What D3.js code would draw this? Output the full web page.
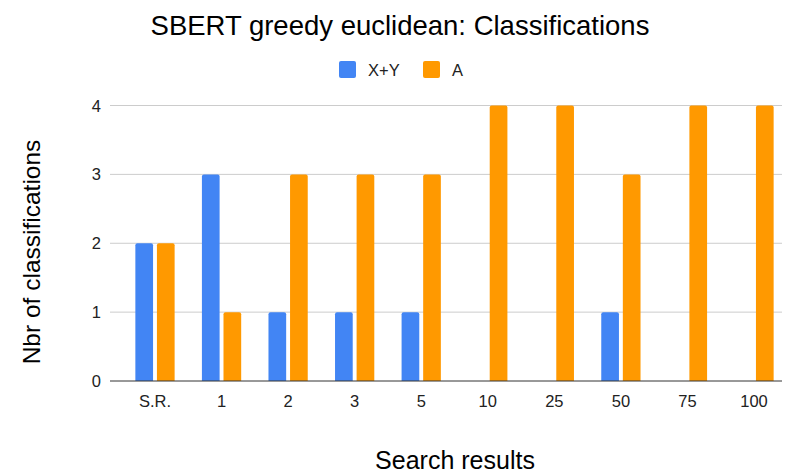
<!DOCTYPE html>
<html lang="en">
<head>
<meta charset="utf-8">
<title>SBERT greedy euclidean: Classifications</title>
<script src="https://cdn.jsdelivr.net/npm/d3@7"></script>
<style>
  body { margin: 0; background: #fff; }
  text { font-family: "Liberation Sans", Arial, sans-serif; }
</style>
</head>
<body>
<script>
// data
var categories = ["S.R.", "1", "2", "3", "5", "10", "25", "50", "75", "100"];
var seriesNames = ["X+Y", "A"];
var xyValues = [2, 3, 1, 1, 1, 0, 0, 1, 0, 0];
var aValues = [2, 1, 3, 3, 3, 4, 4, 3, 4, 4];
var yTicks = [0, 1, 2, 3, 4];
var colors = ["#4285f4", "#ff9900"];

var w = 786, h = 475;
var plotLeft = 110, plotRight = 782, plotTop = 105.5, plotBottom = 381;

var svg = d3.select("body").append("svg")
  .attr("width", w)
  .attr("height", h);

var y = d3.scaleLinear().domain([0, 4]).range([plotBottom, plotTop]);

var x = d3.scaleBand()
  .domain(categories)
  .range([plotLeft, 799])
  .paddingInner(0.41)
  .paddingOuter(0.381);

var x1 = d3.scaleBand()
  .domain(seriesNames)
  .range([0, x.bandwidth()])
  .paddingInner(0.18);

// gridlines
svg.append("g").selectAll("line")
  .data(yTicks.filter(function(d) { return d > 0; }))
  .enter().append("line")
  .attr("x1", plotLeft).attr("x2", plotRight)
  .attr("y1", function(d) { return y(d); })
  .attr("y2", function(d) { return y(d); })
  .attr("stroke", "#cccccc")
  .attr("stroke-width", 1);

// y tick labels
svg.append("g").selectAll("text")
  .data(yTicks)
  .enter().append("text")
  .attr("x", 101)
  .attr("y", function(d) { return y(d) + 6; })
  .attr("text-anchor", "end")
  .attr("font-size", 16.5)
  .attr("fill", "#222")
  .text(function(d) { return d; });

// bars
var rows = categories.map(function(c, i) {
  return { cat: c, vals: [xyValues[i], aValues[i]] };
});

function barPath(x0, bw, v) {
  var y0 = y(0), y1 = y(v), r = 2;
  return "M" + x0 + "," + y0 +
    "V" + (y1 + r) +
    "Q" + x0 + "," + y1 + " " + (x0 + r) + "," + y1 +
    "H" + (x0 + bw - r) +
    "Q" + (x0 + bw) + "," + y1 + " " + (x0 + bw) + "," + (y1 + r) +
    "V" + y0 + "Z";
}

var groups = svg.append("g").selectAll("g")
  .data(rows)
  .enter().append("g")
  .attr("transform", function(d) { return "translate(" + x(d.cat) + ",0)"; });

groups.selectAll("path")
  .data(function(d) {
    return d.vals.map(function(v, k) { return { name: seriesNames[k], value: v, k: k }; })
      .filter(function(e) { return e.value > 0; });
  })
  .enter().append("path")
  .attr("d", function(d) { return barPath(x1(d.name), x1.bandwidth(), d.value); })
  .attr("fill", function(d) { return colors[d.k]; });

// baseline
svg.append("line")
  .attr("x1", plotLeft).attr("x2", plotRight)
  .attr("y1", plotBottom).attr("y2", plotBottom)
  .attr("stroke", "#333")
  .attr("stroke-width", 1);

// x tick labels
svg.append("g").selectAll("text")
  .data(categories)
  .enter().append("text")
  .attr("x", function(d) { return x(d) + x.bandwidth() / 2; })
  .attr("y", 407)
  .attr("text-anchor", "middle")
  .attr("font-size", 16.5)
  .attr("fill", "#222")
  .text(function(d) { return d; });

// title
svg.append("text")
  .attr("x", 400).attr("y", 35)
  .attr("text-anchor", "middle")
  .attr("font-size", 27.5)
  .attr("fill", "#000")
  .text("SBERT greedy euclidean: Classifications");

// legend
var legendX = [339, 423];
var legend = svg.append("g").selectAll("g")
  .data(seriesNames)
  .enter().append("g")
  .attr("transform", function(d, i) { return "translate(" + legendX[i] + ",61)"; });
legend.append("rect")
  .attr("width", 17).attr("height", 17)
  .attr("rx", 2)
  .attr("fill", function(d, i) { return colors[i]; });
legend.append("text")
  .attr("x", 29).attr("y", 15)
  .attr("font-size", 16.5)
  .attr("fill", "#222")
  .text(function(d) { return d; });

// axis titles
svg.append("text")
  .attr("x", 455).attr("y", 469)
  .attr("text-anchor", "middle")
  .attr("font-size", 25)
  .attr("fill", "#000")
  .text("Search results");

svg.append("text")
  .attr("transform", "translate(40,252) rotate(-90)")
  .attr("text-anchor", "middle")
  .attr("font-size", 24.5)
  .attr("fill", "#000")
  .text("Nbr of classifications");
</script>
</body>
</html>
